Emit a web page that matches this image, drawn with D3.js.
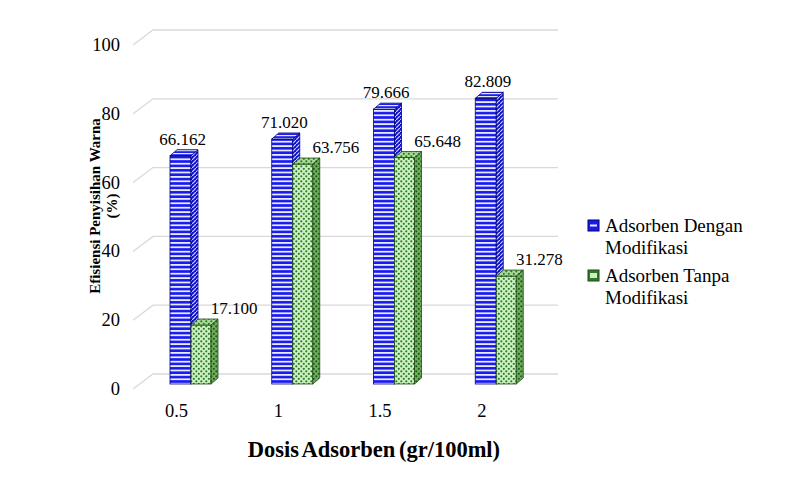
<!DOCTYPE html>
<html>
<head>
<meta charset="utf-8">
<script src="https://cdn.jsdelivr.net/npm/d3@7"></script>
<style>
  body { margin: 0; background: #fff; }
</style>
</head>
<body>
<svg id="chart" width="787" height="478"></svg>
<script>
// data
var categories = ["0.5", "1", "1.5", "2"];
var dengan = [66.162, 71.020, 79.666, 82.809];
var tanpa = [17.100, 63.756, 65.648, 31.278];
var seriesNames = ["Adsorben Dengan Modifikasi", "Adsorben Tanpa Modifikasi"];
var yTicks = [0, 20, 40, 60, 80, 100];

var FONT = "Liberation Serif";

var svg = d3.select("#chart");
var defs = svg.append("defs");

// 3d look: wall depth and bar depth
var wallDx = 20, wallDy = -15;
var barDx = 7, barDy = -6;
var base = 384;

// scales
var x = d3.scaleBand().domain(categories).range([150.5, 557.5]);
var yBack = d3.scaleLinear().domain([0, 100]).range([374, 30]);
var yBar = d3.scaleLinear().domain([0, 100]).range([base, base - 345]);

// ---- patterns ----
function stripePattern(id, bg, fg, h, lw) {
  var p = defs.append("pattern").attr("id", id)
    .attr("patternUnits", "userSpaceOnUse").attr("width", 8).attr("height", h);
  p.append("rect").attr("width", 8).attr("height", h).attr("fill", bg);
  p.append("rect").attr("y", 0).attr("width", 8).attr("height", lw).attr("fill", fg);
}
function diagPattern(id, bg, fg) {
  var p = defs.append("pattern").attr("id", id)
    .attr("patternUnits", "userSpaceOnUse").attr("width", 4).attr("height", 4);
  p.append("rect").attr("width", 4).attr("height", 4).attr("fill", bg);
  p.append("path").attr("d", "M0,4 L4,0").attr("stroke", fg).attr("stroke-width", 1.2);
}
function dotPattern(id, bg, fg) {
  var p = defs.append("pattern").attr("id", id)
    .attr("patternUnits", "userSpaceOnUse").attr("width", 5).attr("height", 5);
  p.append("rect").attr("width", 5).attr("height", 5).attr("fill", bg);
  p.append("circle").attr("cx", 1.3).attr("cy", 1.3).attr("r", 1.1).attr("fill", fg);
  p.append("circle").attr("cx", 3.8).attr("cy", 3.8).attr("r", 1.1).attr("fill", fg);
}
stripePattern("blueFront", "#1a1af0", "#e6ecff", 4.4, 1.8);
diagPattern("blueSide", "#1010c8", "#c8d2ff");
stripePattern("blueTop", "#2020e8", "#dfe6ff", 3, 1.2);
dotPattern("greenFront", "#cdf2c2", "#2f7a2a");
dotPattern("greenSide", "#6fae5c", "#1f5a1a");
dotPattern("greenTop", "#a8dc98", "#2f7a2a");

// ---- gridlines (front edge slants back to the wall) ----
svg.append("g").selectAll("path")
  .data(yTicks)
  .enter()
  .append("path")
    .attr("d", function(d) {
      var yb = yBack(d);
      return "M133," + (yb - wallDy) + " L" + (133 + wallDx) + "," + yb + " L558," + yb;
    })
    .attr("fill", "none")
    .attr("stroke", "#d9d9d9")
    .attr("stroke-width", 1.3);

// y tick labels
svg.append("g").selectAll("text")
  .data(yTicks)
  .enter()
  .append("text")
    .attr("x", 120)
    .attr("y", function(d) { return yBack(d) - wallDy + 6; })
    .attr("text-anchor", "end")
    .attr("font-family", FONT)
    .attr("font-size", 18.5)
    .text(function(d) { return d; });

// ---- bars ----
var bars = [];
categories.forEach(function(c, i) {
  bars.push({cat: c, v: dengan[i], x0: x(c) + 19.5, w: 21, s: "blue", lab: dengan[i].toFixed(3)});
  bars.push({cat: c, v: tanpa[i], x0: x(c) + 40.5, w: 20, s: "green", lab: tanpa[i].toFixed(3)});
});

var stroke = {blue: "#000070", green: "#1f4d18"};

var g = svg.append("g").selectAll("g")
  .data(bars)
  .enter()
  .append("g");

g.append("rect")
  .attr("x", function(d) { return d.x0; })
  .attr("y", function(d) { return yBar(d.v); })
  .attr("width", function(d) { return d.w; })
  .attr("height", function(d) { return base - yBar(d.v); })
  .attr("fill", function(d) { return "url(#" + d.s + "Front)"; })
  .attr("stroke", function(d) { return stroke[d.s]; })
  .attr("stroke-width", 0.8);

g.append("path")
  .attr("d", function(d) {
    var xr = d.x0 + d.w, yt = yBar(d.v);
    return "M" + xr + "," + yt + " L" + (xr + barDx) + "," + (yt + barDy) +
      " L" + (xr + barDx) + "," + (base + barDy) + " L" + xr + "," + base + "Z";
  })
  .attr("fill", function(d) { return "url(#" + d.s + "Side)"; })
  .attr("stroke", function(d) { return stroke[d.s]; })
  .attr("stroke-width", 0.8);

g.append("path")
  .attr("d", function(d) {
    var yt = yBar(d.v);
    return "M" + d.x0 + "," + yt + " L" + (d.x0 + barDx) + "," + (yt + barDy) +
      " L" + (d.x0 + d.w + barDx) + "," + (yt + barDy) + " L" + (d.x0 + d.w) + "," + yt + "Z";
  })
  .attr("fill", function(d) { return "url(#" + d.s + "Top)"; })
  .attr("stroke", function(d) { return stroke[d.s]; })
  .attr("stroke-width", 0.8);

// value labels
g.append("text")
  .attr("x", function(d) {
    return d.s == "blue" ? d.x0 + d.w / 2 + 2 : d.x0 + d.w / 2 + 33;
  })
  .attr("y", function(d) { return yBar(d.v) - 11; })
  .attr("text-anchor", "middle")
  .attr("font-family", FONT)
  .attr("font-size", 17)
  .text(function(d) { return d.lab; });

// category labels
svg.append("g").selectAll("text")
  .data(categories)
  .enter()
  .append("text")
    .attr("x", function(d) { return x(d) + 26; })
    .attr("y", 417)
    .attr("text-anchor", "middle")
    .attr("font-family", FONT)
    .attr("font-size", 18.5)
    .text(function(d) { return d; });

// axis titles
svg.append("text")
  .attr("x", 374).attr("y", 457)
  .attr("text-anchor", "middle")
  .attr("font-family", FONT)
  .attr("font-size", 22.5).attr("font-weight", "bold")
  .attr("word-spacing", -2)
  .text("Dosis Adsorben (gr/100ml)");

var yt = svg.append("text")
  .attr("transform", "translate(100,206) rotate(-90)")
  .attr("text-anchor", "middle")
  .attr("font-family", FONT)
  .attr("font-size", 15).attr("font-weight", "bold");
yt.append("tspan").attr("x", 0).attr("y", 0).text("Efisiensi Penyisihan Warna");
yt.append("tspan").attr("x", 0).attr("y", 17).text("(%)");

// legend
var leg = svg.append("g").selectAll("g")
  .data(seriesNames)
  .enter()
  .append("g")
    .attr("transform", function(d, i) { return "translate(588," + (220 + i * 50) + ")"; });

leg.append("rect")
  .attr("width", 11).attr("height", 11)
  .attr("fill", function(d, i) { return i == 0 ? "#1a1af0" : "#2f7a2a"; })
  .attr("stroke", function(d, i) { return i == 0 ? "#000070" : "#1f4d18"; });
leg.append("rect")
  .attr("x", 2).attr("y", function(d, i) { return i == 0 ? 4.5 : 3; })
  .attr("width", 7).attr("height", function(d, i) { return i == 0 ? 2 : 5; })
  .attr("fill", function(d, i) { return i == 0 ? "#e6ecff" : "#cdf2c2"; });

var lt = leg.append("text")
  .attr("font-family", FONT)
  .attr("font-size", 19);
lt.append("tspan").attr("x", 17).attr("y", 12)
  .text(function(d) { return d.split(" ").slice(0, 2).join(" "); });
lt.append("tspan").attr("x", 17).attr("y", 34)
  .text(function(d) { return d.split(" ").slice(2).join(" "); });
</script>
</body>
</html>
